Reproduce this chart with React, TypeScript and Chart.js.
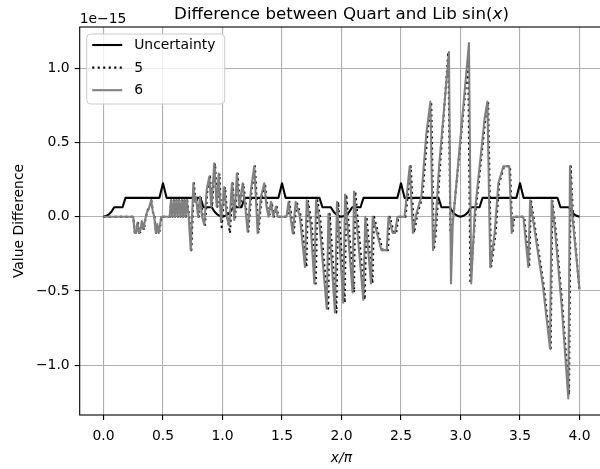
import React, { useEffect, useRef } from 'react';
import { Chart, registerables } from 'chart.js';

Chart.register(...registerables);

// ---- data (values in units of 1e-15) ----
const xTicks = [0, 0.5, 1, 1.5, 2, 2.5, 3, 3.5, 4];
const yTicks = [-1, -0.5, 0, 0.5, 1];

const uncX = [
  0, 0.02, 0.045, 0.065, 0.09, 0.16, 0.185, 0.47, 0.5, 0.53,
  0.815, 0.84, 0.91, 0.935, 0.955, 0.98, 1, 1.02, 1.045, 1.065,
  1.09, 1.16, 1.185, 1.47, 1.5, 1.53, 1.815, 1.84, 1.91, 1.935,
  1.955, 1.98, 2, 2.02, 2.045, 2.065, 2.09, 2.16, 2.185, 2.47,
  2.5, 2.53, 2.815, 2.84, 2.91, 2.935, 2.955, 2.98, 3, 3.02,
  3.045, 3.065, 3.09, 3.16, 3.185, 3.47, 3.5, 3.53, 3.815, 3.84,
  3.91, 3.935, 3.955, 3.98, 4,
];
const uncY = [
  0, 0.004, 0.016, 0.032, 0.064, 0.064, 0.127, 0.127, 0.225, 0.127,
  0.127, 0.064, 0.064, 0.032, 0.016, 0.004, 0, 0.004, 0.016, 0.032,
  0.064, 0.064, 0.127, 0.127, 0.225, 0.127, 0.127, 0.064, 0.064, 0.032,
  0.016, 0.004, 0, 0.004, 0.016, 0.032, 0.064, 0.064, 0.127, 0.127,
  0.225, 0.127, 0.127, 0.064, 0.064, 0.032, 0.016, 0.004, 0, 0.004,
  0.016, 0.032, 0.064, 0.064, 0.127, 0.127, 0.225, 0.127, 0.127, 0.064,
  0.064, 0.032, 0.016, 0.004, 0,
];

const s5X = [
  0, 0.25, 0.264, 0.276, 0.289, 0.3, 0.313, 0.325, 0.339, 0.352,
  0.368, 0.383, 0.402, 0.416, 0.428, 0.443, 0.455, 0.468, 0.488, 0.558,
  0.569, 0.58, 0.592, 0.603, 0.614, 0.625, 0.636, 0.648, 0.659, 0.67,
  0.681, 0.692, 0.703, 0.72, 0.738, 0.76, 0.772, 0.783, 0.8, 0.817,
  0.834, 0.853, 0.873, 0.895, 0.912, 0.937, 0.957, 0.974, 0.993, 1.021,
  1.041, 1.063, 1.085, 1.105, 1.127, 1.147, 1.175, 1.197, 1.217, 1.245,
  1.273, 1.301, 1.329, 1.357, 1.376, 1.393, 1.413, 1.432, 1.455, 1.469,
  1.544, 1.562, 1.598, 1.623, 1.66, 1.705, 1.718, 1.75, 1.784, 1.797,
  1.82, 1.888, 1.9, 1.957, 1.972, 2.027, 2.04, 2.105, 2.116, 2.195,
  2.21, 2.26, 2.273, 2.345, 2.39, 2.405, 2.44, 2.46, 2.478, 2.538,
  2.582, 2.61, 2.638, 2.68, 2.722, 2.754, 2.776, 2.793, 2.828, 2.898,
  2.915, 2.94, 3.065, 3.083, 3.125, 3.21, 3.232, 3.257, 3.295, 3.325,
  3.366, 3.416, 3.436, 3.452, 3.535, 3.577, 3.592, 3.633, 3.697, 3.758,
  3.772, 3.8, 3.856, 3.912, 3.926, 3.946, 4.0,
];
const s5Y = [
  0, 0, -0.11, -0.11, -0.03, -0.11, -0.1, -0.04, -0.09, -0.02,
  0.04, 0.06, 0.11, 0.03, 0, -0.11, -0.06, -0.11, 0, 0,
  0.11, 0, 0.11, 0, 0.11, 0, 0.11, 0, 0.11, 0,
  0.11, 0, 0.11, 0, -0.225, 0.225, 0.1, 0.135, 0, 0.135,
  0, -0.056, 0.18, 0.27, 0.067, 0.36, 0.067, 0.29, -0.07, 0.2,
  0, -0.112, 0.225, -0.022, 0.29, 0.067, 0.225, 0.067, -0.1, 0.18,
  0.34, -0.112, 0.135, 0.225, 0.067, 0, 0.1, 0, 0.067, 0,
  0, 0.1, -0.112, 0.1, 0, -0.34, 0.11, -0.05, -0.45, 0.11,
  0, -0.62, 0.02, -0.645, 0.1, -0.58, 0.15, -0.51, 0.17, -0.56,
  0, -0.45, 0, -0.225, -0.225, 0, -0.11, -0.11, 0, 0,
  0.34, -0.11, 0.02, 0.135, 0.56, 0.775, -0.225, -0.11, 0.34, 1.11,
  -0.11, 0, 1.05, -0.45, 0.02, 0.665, 0.775, -0.34, -0.11, 0.225,
  0.34, 0.34, -0.11, 0, 0, -0.34, 0.11, -0.11, -0.45, -0.887,
  0.11, -0.09, -0.6, -1.2, 0.34, 0, -0.5,
];

const s6X = [
  0, 0.25, 0.262, 0.274, 0.286, 0.298, 0.31, 0.322, 0.336, 0.35,
  0.365, 0.38, 0.4, 0.414, 0.426, 0.44, 0.452, 0.465, 0.485, 0.556,
  0.567, 0.578, 0.59, 0.601, 0.612, 0.623, 0.634, 0.646, 0.657, 0.668,
  0.679, 0.69, 0.7, 0.716, 0.733, 0.755, 0.766, 0.777, 0.794, 0.811,
  0.828, 0.847, 0.867, 0.889, 0.906, 0.931, 0.951, 0.968, 0.987, 1.015,
  1.035, 1.057, 1.079, 1.099, 1.121, 1.141, 1.169, 1.191, 1.211, 1.239,
  1.267, 1.295, 1.323, 1.351, 1.37, 1.387, 1.407, 1.426, 1.449, 1.463,
  1.538, 1.555, 1.59, 1.615, 1.65, 1.693, 1.708, 1.74, 1.772, 1.786,
  1.81, 1.876, 1.89, 1.945, 1.962, 2.015, 2.03, 2.093, 2.105, 2.183,
  2.2, 2.248, 2.262, 2.335, 2.38, 2.395, 2.43, 2.45, 2.47, 2.53,
  2.573, 2.6, 2.629, 2.671, 2.713, 2.747, 2.769, 2.785, 2.82, 2.903,
  2.92, 2.935, 3.071, 3.09, 3.119, 3.203, 3.226, 3.25, 3.287, 3.318,
  3.36, 3.41, 3.43, 3.445, 3.528, 3.57, 3.585, 3.626, 3.69, 3.752,
  3.766, 3.794, 3.85, 3.906, 3.92, 3.94, 4.0,
];
const s6Y = [
  0, 0, -0.11, -0.11, -0.04, -0.11, -0.09, -0.03, -0.08, -0.02,
  0.03, 0.05, 0.11, 0.04, 0, -0.11, -0.05, -0.11, 0, 0,
  0.11, 0, 0.11, 0, 0.11, 0, 0.11, 0, 0.11, 0,
  0.11, 0, 0.11, 0, -0.225, 0.225, 0.1, 0.135, 0, 0.135,
  0, -0.056, 0.18, 0.27, 0.067, 0.36, 0.067, 0.29, -0.034, 0.2,
  0, -0.06, 0.225, -0.022, 0.29, 0.067, 0.225, 0.067, -0.1, 0.18,
  0.34, -0.112, 0.135, 0.225, 0.067, 0, 0.1, 0, 0.067, 0,
  0, 0.1, -0.112, 0.1, 0, -0.34, 0.11, -0.05, -0.45, 0.11,
  0, -0.62, 0.02, -0.645, 0.1, -0.58, 0.15, -0.51, 0.17, -0.56,
  0, -0.45, 0, -0.225, -0.225, 0, -0.11, -0.11, 0, 0,
  0.34, -0.11, 0.02, 0.135, 0.56, 0.775, -0.225, -0.11, 0.34, 1.11,
  -0.45, -0.05, 1.17, -0.45, 0.02, 0.665, 0.775, -0.34, -0.11, 0.225,
  0.34, 0.34, -0.11, 0, 0, -0.34, 0.11, -0.11, -0.45, -0.887,
  0.11, -0.09, -0.6, -1.224, 0.34, 0, -0.49,
];

const legendItems = [
  { label: 'Uncertainty', color: '#000000', dash: [] as number[] },
  { label: '5', color: '#000000', dash: [2.1, 3.4] },
  { label: '6', color: '#808080', dash: [] as number[] },
];

// ---- layout constants ----
const W = 610;
const H = 469;
const AX = { left: 79.7, right: 603.3, top: 27, bottom: 415 };
const FONT = '"DejaVu Sans", sans-serif';
const FS = 13.9;
const TFS = 16.7;

const pts = (xs: number[], ys: number[]) => xs.map((x, i) => ({ x, y: ys[i] }));
const fmt = (v: number) => (v < 0 ? '\u2212' : '') + Math.abs(v).toFixed(1);

const decor = {
  id: 'decor',
  afterDatasetsDraw(chart: any) {
    const { ctx, chartArea: a } = chart;
    ctx.save();
    ctx.strokeStyle = '#000';
    ctx.lineWidth = 1.1;
    ctx.strokeRect(a.left, a.top, a.right - a.left, a.bottom - a.top);
    ctx.restore();
  },
  afterDraw(chart: any) {
    const { ctx, chartArea: a } = chart;
    ctx.save();
    // legend
    const bx = a.left + 7, by = a.top + 7, bw = 138, bh = 70, r = 4;
    ctx.beginPath();
    ctx.moveTo(bx + r, by);
    ctx.arcTo(bx + bw, by, bx + bw, by + bh, r);
    ctx.arcTo(bx + bw, by + bh, bx, by + bh, r);
    ctx.arcTo(bx, by + bh, bx, by, r);
    ctx.arcTo(bx, by, bx + bw, by, r);
    ctx.closePath();
    ctx.fillStyle = 'rgba(255,255,255,0.8)';
    ctx.fill();
    ctx.strokeStyle = '#cccccc';
    ctx.lineWidth = 1;
    ctx.stroke();
    ctx.font = `${FS}px ${FONT}`;
    ctx.textBaseline = 'middle';
    ctx.textAlign = 'left';
    legendItems.forEach((it, i) => {
      const y = by + 11 + i * 22.6;
      ctx.beginPath();
      ctx.setLineDash(it.dash);
      ctx.lineCap = 'butt';
      ctx.strokeStyle = it.color;
      ctx.lineWidth = 2.08;
      ctx.moveTo(bx + 5.5, y);
      ctx.lineTo(bx + 35.5, y);
      ctx.stroke();
      ctx.setLineDash([]);
      ctx.fillStyle = '#000';
      ctx.fillText(it.label, bx + 47.5, y + 0.5);
    });

    // title with italic x
    const parts = [
      { t: 'Difference between Quart and Lib sin(', f: `${TFS}px ${FONT}` },
      { t: 'x', f: `italic ${TFS}px ${FONT}` },
      { t: ')', f: `${TFS}px ${FONT}` },
    ];
    let total = 0;
    parts.forEach((p) => { ctx.font = p.f; total += ctx.measureText(p.t).width; });
    let cx = (a.left + a.right) / 2 - total / 2;
    ctx.textBaseline = 'alphabetic';
    ctx.fillStyle = '#000';
    parts.forEach((p) => { ctx.font = p.f; ctx.fillText(p.t, cx, a.top - 8.5); cx += ctx.measureText(p.t).width; });

    // offset text
    ctx.font = `${FS}px ${FONT}`;
    ctx.textAlign = 'left';
    ctx.fillText('1e\u221215', a.left, a.top - 4);

    // x label
    ctx.font = `italic ${FS}px ${FONT}`;
    ctx.textAlign = 'center';
    ctx.textBaseline = 'middle';
    ctx.fillText('x/\u03c0', (a.left + a.right) / 2, 458);

    // y label
    ctx.translate(19, (a.top + a.bottom) / 2);
    ctx.rotate(-Math.PI / 2);
    ctx.font = `${FS}px ${FONT}`;
    ctx.fillText('Value Difference', 0, 0);
    ctx.restore();
  },
};

export default function App() {
  const ref = useRef<HTMLCanvasElement | null>(null);
  useEffect(() => {
    document.body.style.margin = '0';
    if (!ref.current) return;
    const tickFont = { family: FONT, size: FS };
    const grid = { color: '#b0b0b0', lineWidth: 1.1, tickColor: '#000', tickLength: 5, tickWidth: 1.1 };
    const chart = new Chart(ref.current, {
      type: 'line',
      data: {
        datasets: [
          { label: '6', data: pts(s6X, s6Y), borderColor: '#808080', borderWidth: 2.08, order: 0 },
          { label: '5', data: pts(s5X, s5Y), borderColor: '#000000', borderWidth: 2.08, borderDash: [2.1, 3.4], order: 1 },
          { label: 'Uncertainty', data: pts(uncX, uncY), borderColor: '#000000', borderWidth: 2.08, order: 2 },
        ],
      },
      options: {
        responsive: false,
        animation: false,
        devicePixelRatio: 1,
        layout: { padding: { left: 0, top: AX.top, right: W - AX.right, bottom: 0 } },
        plugins: { legend: { display: false }, title: { display: false }, tooltip: { enabled: false } },
        elements: {
          point: { radius: 0, hoverRadius: 0 },
          line: { tension: 0, borderJoinStyle: 'round', borderCapStyle: 'butt', fill: false },
        },
        scales: {
          x: {
            type: 'linear',
            min: -0.2,
            max: 4.2,
            afterFit: (s: any) => { s.height = H - AX.bottom; },
            afterBuildTicks: (s: any) => { s.ticks = xTicks.map((v) => ({ value: v })); },
            ticks: {
              callback: (v: any) => Number(v).toFixed(1),
              font: tickFont, color: '#000', padding: 8, maxRotation: 0, minRotation: 0, autoSkip: false,
            },
            grid,
            border: { display: false },
          },
          y: {
            type: 'linear',
            min: -1.336,
            max: 1.278,
            afterFit: (s: any) => { s.width = AX.left; },
            afterBuildTicks: (s: any) => { s.ticks = yTicks.map((v) => ({ value: v })); },
            ticks: { callback: (v: any) => fmt(Number(v)), font: tickFont, color: '#000', padding: 5, autoSkip: false },
            grid,
            border: { display: false },
          },
        },
      },
      plugins: [decor],
    } as any);
    return () => chart.destroy();
  }, []);
  return (
    <div style={{ width: 600, height: H, overflow: 'hidden', position: 'relative' }}>
      <canvas ref={ref} width={W} height={H} style={{ width: W, height: H, display: 'block' }} />
    </div>
  );
}
